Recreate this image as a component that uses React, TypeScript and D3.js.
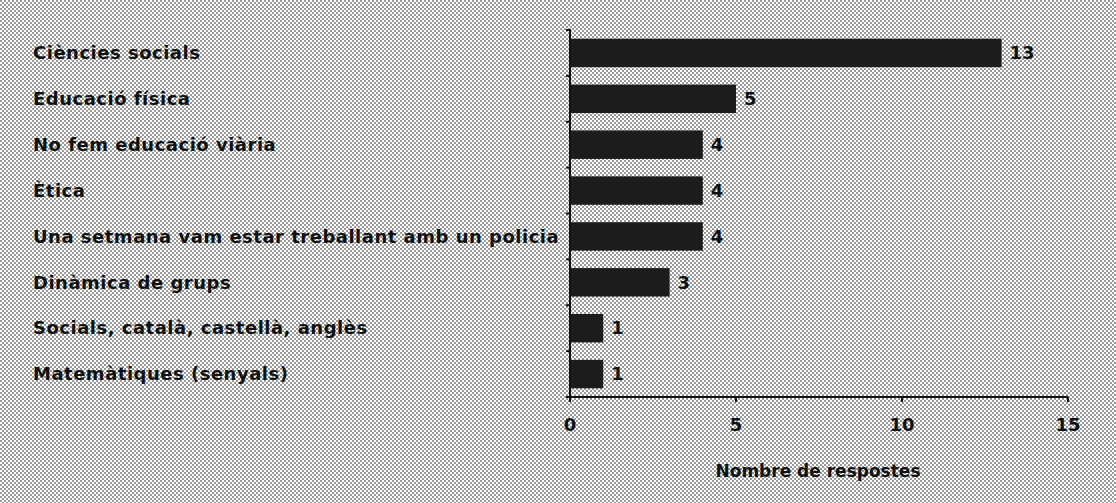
import * as d3 from 'd3';

const categories = [
  'Ciències socials',
  'Educació física',
  'No fem educació viària',
  'Ètica',
  'Una setmana vam estar treballant amb un policia',
  'Dinàmica de grups',
  'Socials, català, castellà, anglès',
  'Matemàtiques (senyals)',
];
const values = [13, 5, 4, 4, 4, 3, 1, 1];
const xTicks = [0, 5, 10, 15];

const W = 1116;
const H = 503;
const font = '"DejaVu Sans", Verdana, sans-serif';

export default function App() {
  const x = d3.scaleLinear().domain([0, 15]).range([570, 1068]);
  const y = d3.scaleBand<string>().domain(categories).range([30, 397]).paddingInner(0.38).paddingOuter(0.19);
  const bounds = d3.range(categories.length + 1).map((i) => 30 + (i * (397 - 30)) / categories.length);

  return (
    <>
      <style>{`body{margin:0}`}</style>
      <svg width={W} height={H} style={{ display: 'block' }}>
        <defs>
          <pattern id="dots" width="4" height="4" patternUnits="userSpaceOnUse">
            <rect width="4" height="4" fill="#fff" />
            <rect x="0" y="0" width="2" height="2" fill="#9a9a9a" />
            <rect x="2" y="2" width="2" height="2" fill="#9a9a9a" />
          </pattern>
        </defs>
        <rect width={W} height={H} fill="url(#dots)" />

        {categories.map((c, i) => (
          <g key={c}>
            <rect x={x(0)} y={y(c)} width={x(values[i]) - x(0)} height={y.bandwidth()} fill="#1c1c1c" />
            <text x={33} y={(y(c) ?? 0) + y.bandwidth() / 2} dy="0.35em" fontFamily={font} fontWeight="bold" fontSize={18} letterSpacing={0.5} fill="#111">
              {c}
            </text>
            <text x={x(values[i]) + 8} y={(y(c) ?? 0) + y.bandwidth() / 2} dy="0.35em" fontFamily={font} fontWeight="bold" fontSize={18} fill="#111">
              {values[i]}
            </text>
          </g>
        ))}

        {/* y axis */}
        <line x1={x(0)} x2={x(0)} y1={30} y2={397} stroke="#111" strokeWidth={2} />
        {bounds.map((b) => (
          <line key={b} x1={x(0) - 4} x2={x(0) + 1} y1={b} y2={b} stroke="#111" strokeWidth={2} />
        ))}

        {/* x axis */}
        <line x1={x(0)} x2={x(15)} y1={397} y2={397} stroke="#111" strokeWidth={2} />
        {xTicks.map((t) => (
          <g key={t}>
            <line x1={x(t)} x2={x(t)} y1={397} y2={402} stroke="#111" strokeWidth={2} />
            <text x={x(t)} y={425} dy="0.35em" textAnchor="middle" fontFamily={font} fontWeight="bold" fontSize={18} fill="#111">
              {t}
            </text>
          </g>
        ))}
        <text x={818} y={471} dy="0.35em" textAnchor="middle" fontFamily={font} fontWeight="bold" fontSize={17} fill="#111">
          Nombre de respostes
        </text>
      </svg>
    </>
  );
}
